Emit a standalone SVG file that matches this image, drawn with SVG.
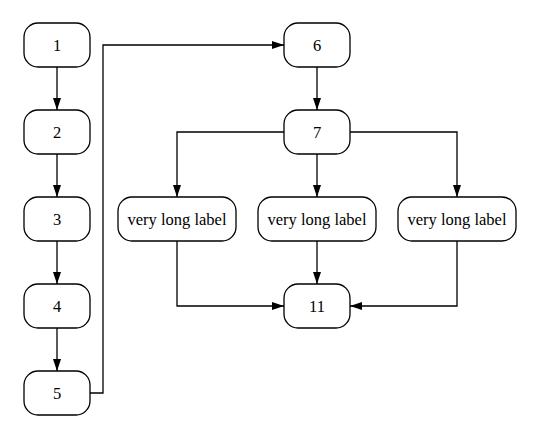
<svg xmlns="http://www.w3.org/2000/svg" width="540" height="439" viewBox="0 0 540 439">
<style>
.n rect{fill:#fff;stroke:#000;stroke-width:1.3}
.n text{font-family:"Liberation Serif",serif;font-size:16.5px;text-anchor:middle;dominant-baseline:central;fill:#000}
.e path{fill:none;stroke:#000;stroke-width:1.3;marker-end:url(#a)}
</style>
<defs>
<marker id="a" viewBox="0 0 12 8" refX="12" refY="4" markerWidth="12" markerHeight="8" markerUnits="userSpaceOnUse" orient="auto">
<path d="M0,0L12,4L0,8z" fill="#000"/>
</marker>
</defs>
<rect width="540" height="439" fill="#fff"/>
<g id="edges" class="e">
<path d="M57,67V110"/>
<path d="M57,154V197"/>
<path d="M57,241V284"/>
<path d="M57,328V371"/>
<path d="M90,393H103V45H284"/>
<path d="M317,67V110"/>
<path d="M284,132H177V197"/>
<path d="M317,154V197"/>
<path d="M350,132H457V197"/>
<path d="M177,241V306H284"/>
<path d="M317,241V284"/>
<path d="M457,241V306H350"/>
</g>
<g id="n1" class="n"><rect x="24" y="23" width="66" height="44" rx="14"/><text x="57" y="45">1</text></g>
<g id="n2" class="n"><rect x="24" y="110" width="66" height="44" rx="14"/><text x="57" y="132">2</text></g>
<g id="n3" class="n"><rect x="24" y="197" width="66" height="44" rx="14"/><text x="57" y="219">3</text></g>
<g id="n4" class="n"><rect x="24" y="284" width="66" height="44" rx="14"/><text x="57" y="306">4</text></g>
<g id="n5" class="n"><rect x="24" y="371" width="66" height="44" rx="14"/><text x="57" y="393">5</text></g>
<g id="n6" class="n"><rect x="284" y="23" width="66" height="44" rx="14"/><text x="317" y="45">6</text></g>
<g id="n7" class="n"><rect x="284" y="110" width="66" height="44" rx="14"/><text x="317" y="132">7</text></g>
<g id="n8" class="n"><rect x="118" y="197" width="118" height="44" rx="14"/><text x="177" y="219">very long label</text></g>
<g id="n9" class="n"><rect x="258" y="197" width="118" height="44" rx="14"/><text x="317" y="219">very long label</text></g>
<g id="n10" class="n"><rect x="398" y="197" width="118" height="44" rx="14"/><text x="457" y="219">very long label</text></g>
<g id="n11" class="n"><rect x="284" y="284" width="66" height="44" rx="14"/><text x="317" y="306">11</text></g>
</svg>
